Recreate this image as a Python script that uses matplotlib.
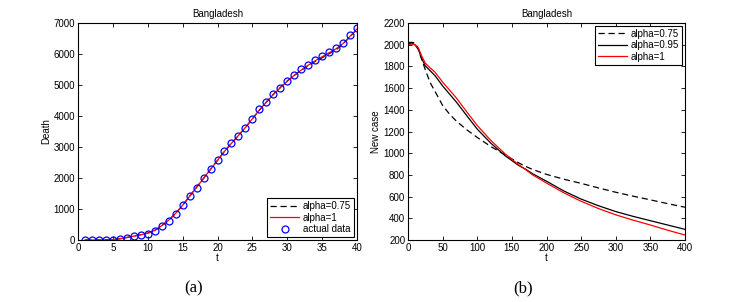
import matplotlib
matplotlib.use("Agg")
import matplotlib.pyplot as plt

plt.rcParams['font.family'] = ['Liberation Sans', 'DejaVu Sans']

# ---------------- Panel (a) data ----------------
t_days = list(range(1, 41))
actual_death = [1, 2, 4, 6, 12, 25, 75, 129, 155, 200, 295, 450, 625, 830, 1130,
                1410, 1690, 1990, 2290, 2570, 2870, 3120, 3360, 3620, 3910,
                4210, 4450, 4705, 4910, 5130, 5330, 5510, 5660, 5800, 5930,
                6060, 6190, 6360, 6600, 6830]
model_a1 = [0, 0, 0, 5, 15, 40, 80, 125, 170, 220, 310, 460, 640, 860, 1120,
            1410, 1700, 1990, 2280, 2570, 2860, 3120, 3370, 3630, 3910,
            4190, 4450, 4690, 4910, 5120, 5310, 5480, 5640, 5780, 5910,
            6040, 6170, 6340, 6570, 6810]
model_a075 = [0, 0, 0, 5, 15, 40, 80, 125, 170, 220, 310, 460, 640, 860, 1120,
              1410, 1700, 1990, 2280, 2570, 2860, 3120, 3370, 3630, 3910,
              4190, 4450, 4700, 4920, 5130, 5310, 5470, 5620, 5760, 5880,
              6010, 6140, 6320, 6560, 6800]

# ---------------- Panel (b) data ----------------
t_b = [0, 5, 10, 15, 20, 25, 32, 39, 50, 60, 70, 85, 100, 120, 140, 160, 170,
       180, 200, 225, 250, 275, 300, 325, 350, 375, 400]
new_a075 = [2020, 2022, 2018, 1960, 1860, 1770, 1650, 1570, 1440, 1360, 1295,
            1215, 1145, 1060, 985, 910, 878, 850, 805, 760, 722, 680, 640, 604,
            570, 535, 502]
new_a095 = [2010, 2015, 2000, 1955, 1870, 1805, 1760, 1715, 1620, 1545, 1470,
            1345, 1222, 1090, 978, 886, 852, 810, 742, 652, 577, 516, 462, 418,
            378, 338, 298]
new_a1 = [2000, 2005, 2000, 1970, 1893, 1830, 1786, 1747, 1655, 1582, 1508,
          1380, 1255, 1115, 995, 893, 848, 800, 725, 635, 557, 490, 432, 383,
          338, 290, 246]

fs = 7
fig = plt.figure(figsize=(7.42, 3.02), dpi=100)
axA = fig.add_axes([78/742, 1-240/302, 279/742, 217/302])
axB = fig.add_axes([408/742, 1-240/302, 277/742, 217/302])

for ax in (axA, axB):
    ax.tick_params(direction='in', top=True, right=True, labelsize=fs,
                   length=3, width=0.6, pad=2)
    for s in ax.spines.values():
        s.set_linewidth(0.8)

# Panel (a)
axA.plot(t_days, model_a075, color='black', lw=0.9, linestyle=(0, (5, 3)),
         label='alpha=0.75')
axA.plot(t_days, model_a1, color='red', lw=0.9, label='alpha=1')
axA.plot(t_days, actual_death, linestyle='none', marker='o', mfc='none',
         mec='blue', ms=5.0, mew=0.9, label='actual data')
axA.set_xlim(0, 40)
axA.set_ylim(0, 7000)
axA.set_xticks(range(0, 41, 5))
axA.set_yticks(range(0, 7001, 1000))
axA.set_title('Bangladesh', fontsize=fs, pad=4)
axA.set_xlabel('t', fontsize=fs, labelpad=0)
axA.set_ylabel('Death', fontsize=fs, labelpad=2)
legA = axA.legend(loc='lower right', fontsize=fs, frameon=True, fancybox=False,
                  edgecolor='black', framealpha=1, borderpad=0.3,
                  labelspacing=0.15, handlelength=3.0, handletextpad=0.4,
                  borderaxespad=0.3)
legA.get_frame().set_linewidth(0.8)

# Panel (b)
axB.plot(t_b, new_a075, color='black', lw=0.9, linestyle=(0, (5, 3)),
         label='alpha=0.75')
axB.plot(t_b, new_a095, color='black', lw=0.9, label='alpha=0.95')
axB.plot(t_b, new_a1, color='red', lw=0.9, label='alpha=1')
axB.set_xlim(0, 400)
axB.set_ylim(200, 2200)
axB.set_xticks(range(0, 401, 50))
axB.set_yticks(range(200, 2201, 200))
axB.set_title('Bangladesh', fontsize=fs, pad=4)
axB.set_xlabel('t', fontsize=fs, labelpad=0)
axB.set_ylabel('New case', fontsize=fs, labelpad=2)
legB = axB.legend(loc='upper right', fontsize=fs, frameon=True, fancybox=False,
                  edgecolor='black', framealpha=1, borderpad=0.3,
                  labelspacing=0.15, handlelength=3.0, handletextpad=0.4,
                  borderaxespad=0.3)
legB.get_frame().set_linewidth(0.8)

fig.text(194/742, 1-288/302, '(a)', ha='center', va='center', fontsize=12,
         family=['Liberation Serif', 'DejaVu Serif'])
fig.text(523/742, 1-288/302, '(b)', ha='center', va='center', fontsize=12,
         family=['Liberation Serif', 'DejaVu Serif'])

fig.savefig('out.png', dpi=100)
